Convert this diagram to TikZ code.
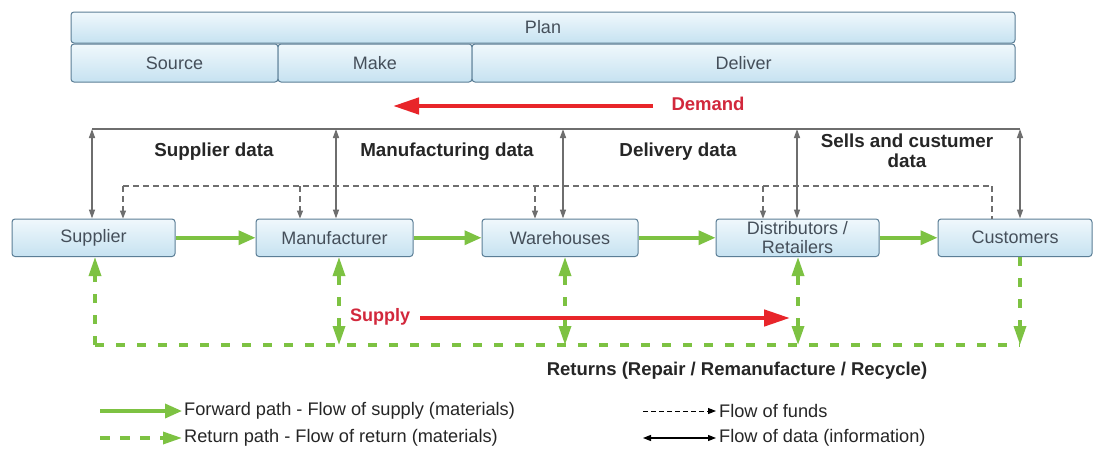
\documentclass[tikz,border=0pt]{standalone}
\usepackage{fontspec}
\setmainfont{Liberation Sans}
\usetikzlibrary{arrows.meta,calc}
\definecolor{boxborder}{HTML}{5B7E96}
\definecolor{boxtop}{HTML}{F0F8FC}
\definecolor{boxbot}{HTML}{C6E2F1}
\definecolor{boxtext}{HTML}{454F5A}
\definecolor{grn}{HTML}{7DC242}
\definecolor{datagray}{HTML}{6E6E6E}
\definecolor{redarrow}{HTML}{E8252A}
\definecolor{redtext}{HTML}{D2283C}
\tikzset{
  box/.style={draw=boxborder, line width=1pt, rounded corners=3pt, top color=boxtop, bottom color=boxbot,
    text=boxtext, font=\fontsize{18}{19}\selectfont, align=center, inner sep=0pt},
  lbl/.style={font=\fontsize{18.8}{20}\selectfont\bfseries, text=black!85, align=center, inner sep=0pt},
  legtext/.style={font=\fontsize{18.2}{20}\selectfont, text=black!85, anchor=west, inner sep=0pt},
  fwd/.style={draw=grn, line width=3.5pt, -{Triangle[width=14pt,length=17pt]}},
  ret/.style={draw=grn, line width=3.3pt, dash pattern=on 9pt off 12pt},
  gtip/.tip={Triangle[width=12pt,length=19pt]},
  data/.style={draw=datagray, line width=1.4pt},
  dtip/.tip={Triangle[width=6pt,length=9pt]},
  funds/.style={draw=datagray, line width=1.1pt, dash pattern=on 6pt off 4pt},
  ftip/.tip={Triangle[width=6pt,length=8pt]},
  bigred/.style={draw=redarrow, line width=4.5pt, -{Triangle[width=16pt,length=26pt]}},
}
\begin{document}
\begin{tikzpicture}[x=1pt,y=-1pt]
\fill[white] (0,0) rectangle (1097,450);
\useasboundingbox (0,0) rectangle (1097,450);

% Plan / SCOR bar
\node[box, minimum width=944pt, minimum height=31pt] (plan) at (543,27.5) {Plan};
\node[box, minimum width=207pt, minimum height=38pt] (source) at (174.5,63) {Source};
\node[box, minimum width=194pt, minimum height=38pt] (make) at (375,63) {Make};
\node[box, minimum width=543pt, minimum height=38pt] (deliver) at (743.5,63) {Deliver};

% Demand
\coordinate (dem1) at (653,106);
\coordinate (dem2) at (393,106);
\draw[bigred] (dem1) -- (dem2);
\node[font=\fontsize{18.5}{20}\selectfont\bfseries, text=redtext, inner sep=0pt] (demand) at (708,104) {Demand};

% Main chain boxes
\node[box, minimum width=163pt, minimum height=37.5pt] (sup) at (93.5,237.75) {Supplier};
\node[box, minimum width=157pt, minimum height=37.5pt] (man) at (334.5,237.75) {Manufacturer};
\node[box, minimum width=156pt, minimum height=37.5pt] (war) at (560,237.75) {Warehouses};
\node[box, minimum width=163pt, minimum height=37.5pt] (dis) at (797.5,237.75) {Distributors /\\Retailers};
\node[box, minimum width=154pt, minimum height=37.5pt] (cus) at (1015,237.75) {Customers};

% Data flows
\coordinate (t1) at (92,129);
\coordinate (t2) at (336,129);
\coordinate (t3) at (563,129);
\coordinate (t4) at (797,129);
\coordinate (t5) at (1020,129);
\draw[data] (t1) -- (t5);
\draw[data, {dtip}-{dtip}] (t1) -- (t1 |- sup.north);
\draw[data, {dtip}-{dtip}] (t2) -- (t2 |- man.north);
\draw[data, {dtip}-{dtip}] (t3) -- (t3 |- war.north);
\draw[data, {dtip}-{dtip}] (t4) -- (t4 |- dis.north);
\draw[data, {dtip}-{dtip}] (t5) -- (t5 |- cus.north);

\node[lbl] (ld1) at (214,152) {Supplier data};
\node[lbl] (ld2) at (447,152) {Manufacturing data};
\node[lbl] (ld3) at (678,152) {Delivery data};
\node[lbl] (ld4) at (907,151) {Sells and custumer\\data};

% Funds flows
\coordinate (f1) at (123,186);
\coordinate (f2) at (300,186);
\coordinate (f3) at (535,186);
\coordinate (f4) at (763,186);
\coordinate (f5) at (992,186);
\draw[funds] (f1) -- (f5);
\draw[funds, -{ftip}] (f1) -- (f1 |- sup.north);
\draw[funds, -{ftip}] (f2) -- (f2 |- man.north);
\draw[funds, -{ftip}] (f3) -- (f3 |- war.north);
\draw[funds, -{ftip}] (f4) -- (f4 |- dis.north);
\draw[funds] (f5) -- (f5 |- cus.north);

% Forward path
\draw[fwd] (sup.east) -- (man.west);
\draw[fwd] (man.east) -- (war.west);
\draw[fwd] (war.east) -- (dis.west);
\draw[fwd] (dis.east) -- (cus.west);

% Return path
\coordinate (r1) at (95,345);
\coordinate (r2) at (339,345);
\coordinate (r3) at (565,345);
\coordinate (r4) at (798,345);
\coordinate (r5) at (1020,345);
\draw[ret] (r1) -- (r5);
\draw[ret, -{gtip}] (r1) -- (r1 |- sup.south);
\draw[ret, {gtip}-{gtip}] (r2) -- (r2 |- man.south);
\draw[ret, {gtip}-{gtip}] (r3) -- (r3 |- war.south);
\draw[ret, {gtip}-{gtip}] (r4) -- (r4 |- dis.south);
\draw[ret, -{gtip}] (r5 |- cus.south) -- (r5);

% Supply
\coordinate (sp1) at (420,318);
\coordinate (sp2) at (790,318);
\draw[bigred] (sp1) -- (sp2);
\node[font=\fontsize{18}{20}\selectfont\bfseries, text=redtext, inner sep=0pt] (supply) at (380,317) {Supply};

\node[font=\fontsize{18.5}{20}\selectfont\bfseries, text=black!85, inner sep=0pt] (returns) at (737,371) {Returns (Repair / Remanufacture / Recycle)};

% Legend
\coordinate (la1) at (100,411);
\coordinate (la2) at (182,411);
\coordinate (lb1) at (100,438);
\coordinate (lb2) at (182,438);
\coordinate (lc1) at (643,411);
\coordinate (lc2) at (716,411);
\coordinate (ld1c) at (643,438);
\coordinate (ld2c) at (716,438);
\draw[fwd] (la1) -- (la2);
\draw[ret, dash pattern=on 10pt off 10pt, -{gtip}] (lb1) -- (lb2);
\draw[draw=black, line width=1pt, dash pattern=on 5pt off 3pt, -{ftip}] (lc1) -- (lc2);
\draw[draw=black, line width=1.2pt, {ftip}-{ftip}] (ld1c) -- (ld2c);
\node[legtext] (lt1) at (184,411) {Forward path - Flow of supply (materials)};
\node[legtext] (lt2) at (184,438) {Return path - Flow of return (materials)};
\node[legtext] (lt3) at (719,411) {Flow of funds};
\node[legtext] (lt4) at (719,438) {Flow of data (information)};
\end{tikzpicture}
\end{document}
